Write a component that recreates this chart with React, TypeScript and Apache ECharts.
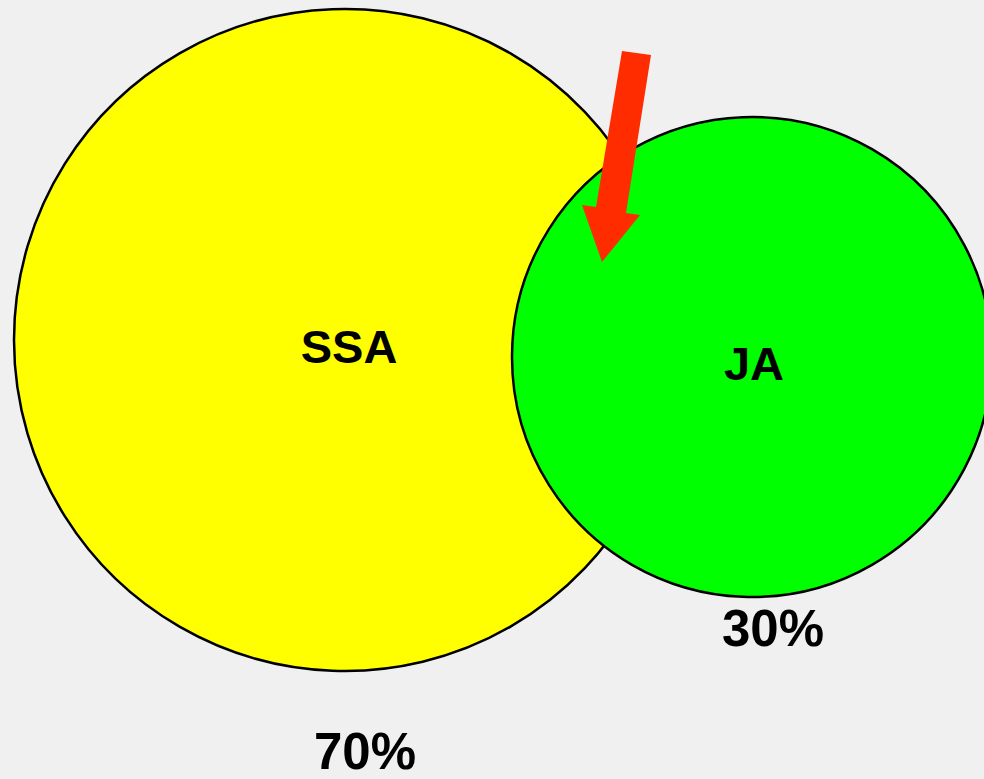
import { useEffect, useRef } from "react";
import * as echarts from "echarts";

// ---- data ----
const setNames = ["SSA", "JA"];
const shareLabels = ["70%", "30%"];
const setColors = ["#ffff00", "#00ff00"];

// ---- layout (page pixels, mapped through hidden value axes) ----
const centersX = [345, 752];
const centersY = [340, 357];
const radii = [331, 240];
const nameX = [349, 754];
const nameY = [346, 363];
const shareX = [365, 773];
const shareY = [751, 628];
const arrowX = [622, 651, 626, 640, 602, 582, 596];
const arrowY = [51, 55, 213, 215, 262, 205, 207];

const W = 984;
const H = 779;
const FONT = '"Liberation Sans", Arial, Helvetica, sans-serif';

export default function App() {
  const ref = useRef<HTMLDivElement>(null);

  useEffect(() => {
    if (!ref.current) return;
    const chart = echarts.init(ref.current, null, { renderer: "svg" });

    const circleData = setNames.map((n, i) => ({
      name: n,
      value: [centersX[i], centersY[i], radii[i], nameX[i], nameY[i], shareX[i], shareY[i]],
    }));
    const arrowData = arrowX.map((x, i) => [x, arrowY[i]]);

    chart.setOption({
      animation: false,
      backgroundColor: "#f0f0f0",
      grid: { left: 0, right: 0, top: 0, bottom: 0 },
      xAxis: { type: "value", min: 0, max: W, show: false },
      yAxis: { type: "value", min: 0, max: H, inverse: true, show: false },
      series: [
        {
          type: "custom",
          coordinateSystem: "cartesian2d",
          clip: false,
          data: circleData,
          renderItem: (params: any, api: any) => {
            const i = params.dataIndex;
            const c = api.coord([api.value(0), api.value(1)]);
            const r = api.size([api.value(2), 0])[0];
            const nl = api.coord([api.value(3), api.value(4)]);
            const sl = api.coord([api.value(5), api.value(6)]);
            return {
              type: "group",
              children: [
                {
                  type: "circle",
                  shape: { cx: c[0], cy: c[1], r },
                  style: { fill: setColors[i], stroke: "#000", lineWidth: 2.5 },
                },
                {
                  type: "text",
                  x: nl[0],
                  y: nl[1],
                  style: {
                    text: setNames[i],
                    fill: "#000",
                    fontSize: 47,
                    fontWeight: "bold",
                    fontFamily: FONT,
                    align: "center",
                    verticalAlign: "middle",
                  },
                },
                {
                  type: "text",
                  x: sl[0],
                  y: sl[1],
                  style: {
                    text: shareLabels[i],
                    fill: "#000",
                    fontSize: 51,
                    fontWeight: "bold",
                    fontFamily: FONT,
                    align: "center",
                    verticalAlign: "middle",
                  },
                },
              ],
            };
          },
        },
        {
          type: "custom",
          coordinateSystem: "cartesian2d",
          clip: false,
          z: 10,
          data: [0],
          renderItem: (_params: any, api: any) => {
            const pts = arrowData.map((p) => api.coord(p));
            return {
              type: "polygon",
              shape: { points: pts },
              style: { fill: "#ff2c00" },
            };
          },
        },
      ],
    });

    return () => chart.dispose();
  }, []);

  return (
    <div
      ref={ref}
      style={{ position: "fixed", left: 0, top: 0, width: W, height: H }}
    />
  );
}
